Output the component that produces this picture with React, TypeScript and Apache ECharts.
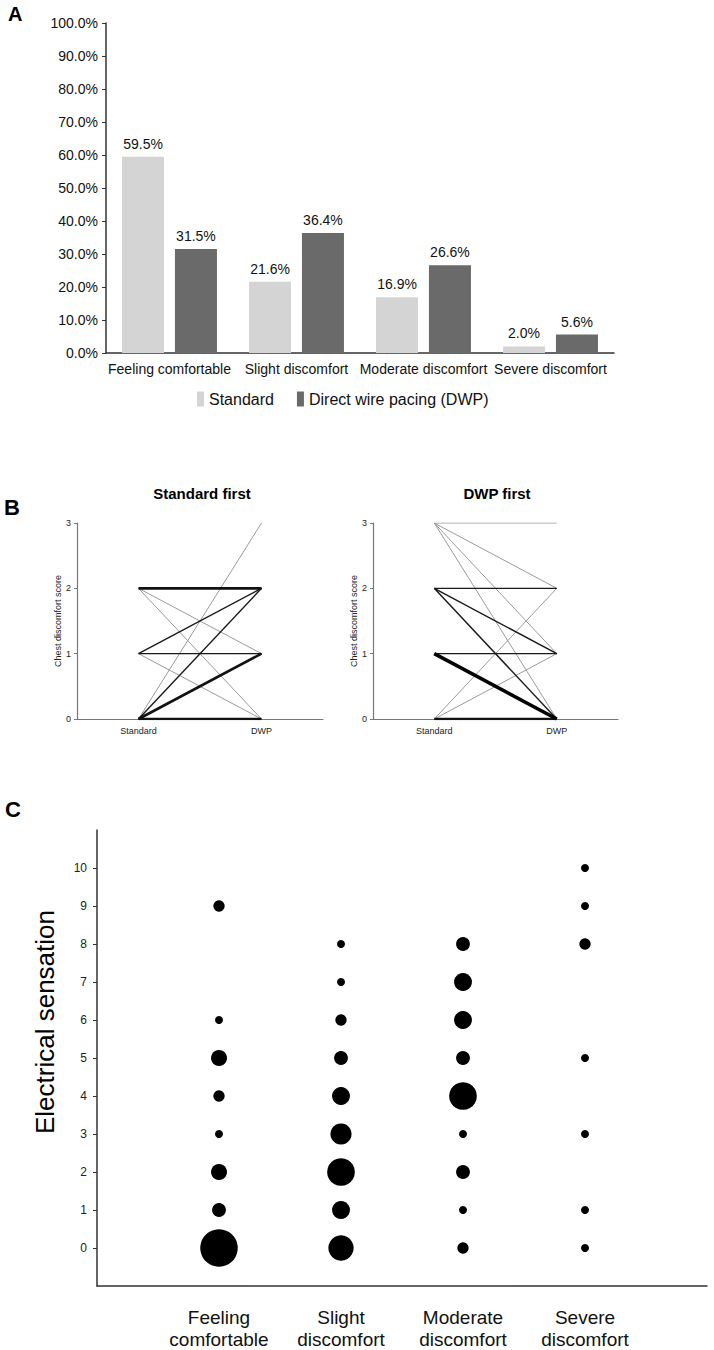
import { useEffect, useRef } from "react";
import * as echarts from "echarts";

// panel A: share of patients per discomfort level
const discomfortLevels = [
  "Feeling comfortable",
  "Slight discomfort",
  "Moderate discomfort",
  "Severe discomfort",
];
const standardPct = [59.5, 21.6, 16.9, 2.0];
const dwpPct = [31.5, 36.4, 26.6, 5.6];

// panel B: chest discomfort score per patient, [with Standard, with DWP, patients]
const pacingArms = ["Standard", "DWP"];
const scoreTicks = [0, 1, 2, 3];
const standardFirstPairs = [
  [2, 2, 3],
  [2, 1, 1],
  [2, 0, 1],
  [1, 2, 2],
  [1, 1, 2],
  [1, 0, 1],
  [0, 3, 1],
  [0, 2, 2],
  [0, 1, 3],
  [0, 0, 3],
];
const dwpFirstPairs = [
  [3, 3, 1],
  [3, 2, 1],
  [3, 1, 1],
  [3, 0, 1],
  [2, 2, 2],
  [2, 1, 2],
  [2, 0, 2],
  [1, 1, 2],
  [1, 0, 4],
  [0, 2, 1],
  [0, 1, 1],
  [0, 0, 3],
];

// panel C: electrical sensation score vs discomfort, [score, patients]
const sensationCategories = [
  "Feeling\ncomfortable",
  "Slight\ndiscomfort",
  "Moderate\ndiscomfort",
  "Severe\ndiscomfort",
];
const sensationTicks = [0, 1, 2, 3, 4, 5, 6, 7, 8, 9, 10];
const feelingCounts = [[0, 22], [1, 3], [2, 4], [3, 1], [4, 2], [5, 4], [6, 1], [9, 2]];
const slightCounts = [[0, 10], [1, 5], [2, 12], [3, 7], [4, 5], [5, 3], [6, 2], [7, 1], [8, 1]];
const moderateCounts = [[0, 2], [1, 1], [2, 3], [3, 1], [4, 12], [5, 3], [6, 5], [7, 5], [8, 3]];
const severeCounts = [[0, 1], [1, 1], [3, 1], [5, 1], [8, 2], [9, 1], [10, 1]];

const FONT = "Liberation Sans, Arial, sans-serif";

const pairStyle = (n: number) => {
  if (n <= 1) return { width: 1, color: "#9a9a9a" };
  if (n === 2) return { width: 1.4, color: "#1a1a1a" };
  if (n === 3) return { width: 2.6, color: "#111" };
  return { width: 3.6, color: "#000" };
};

const pairSeries = (pairs: number[][], axisIndex: number) =>
  [...pairs]
    .sort((a, b) => a[2] - b[2])
    .map((p) => ({
      type: "line",
      xAxisIndex: axisIndex,
      yAxisIndex: axisIndex,
      data: [p[0], p[1]],
      symbol: "none",
      silent: true,
      z: 2 + p[2],
      lineStyle: pairStyle(p[2]),
    }));

const App = () => {
  const chartRef = useRef<HTMLDivElement>(null);

  useEffect(() => {
    if (!chartRef.current) return;
    document.body.style.margin = "0";

    const chart = echarts.init(chartRef.current, null, { renderer: "svg" });

    const bAxisY = (gridIndex: number) => ({
      type: "value",
      gridIndex,
      min: scoreTicks[0],
      max: scoreTicks[scoreTicks.length - 1],
      interval: 1,
      name: "Chest discomfort score",
      nameLocation: "middle",
      nameGap: 13,
      nameTextStyle: { fontSize: 9, color: "#222", fontFamily: FONT },
      axisLine: { show: true, lineStyle: { color: "#777", width: 1.2 } },
      axisTick: { show: true, length: 3, lineStyle: { color: "#777" } },
      axisLabel: { fontSize: 9, color: "#222", margin: 6, fontFamily: FONT },
      splitLine: { show: false },
    });

    const bAxisX = (gridIndex: number) => ({
      type: "category",
      gridIndex,
      data: pacingArms,
      boundaryGap: true,
      axisLine: { show: true, lineStyle: { color: "#777", width: 1.2 } },
      axisTick: { show: false },
      axisLabel: { fontSize: 9, color: "#222", margin: 7, fontFamily: FONT },
    });

    const bubble = (name: string, idx: number, counts: number[][]) => ({
      type: "scatter",
      name,
      xAxisIndex: 3,
      yAxisIndex: 3,
      data: counts.map((c) => [idx + 1, c[0], c[1]]),
      symbolSize: (v: number[]) => 8 * Math.sqrt(v[2]),
      itemStyle: { color: "#000", opacity: 1 },
      silent: true,
    });

    const option = {
      animation: false,
      textStyle: { fontFamily: FONT },
      grid: [
        { left: 106, top: 23, width: 508, height: 330 },
        { left: 77, top: 523, width: 246, height: 196 },
        { left: 373, top: 523, width: 245, height: 196 },
        { left: 97, top: 830, width: 610, height: 456 },
      ],
      legend: {
        data: ["Standard", "Direct wire pacing (DWP)"],
        left: 192,
        top: 386,
        icon: "rect",
        itemWidth: 7,
        itemHeight: 15,
        itemGap: 23,
        textStyle: { fontSize: 16, color: "#111", fontFamily: FONT },
      },
      xAxis: [
        {
          type: "category",
          gridIndex: 0,
          data: discomfortLevels,
          axisLine: { lineStyle: { color: "#333", width: 1.5 } },
          axisTick: { show: false },
          axisLabel: { fontSize: 14, color: "#111", margin: 9, interval: 0 },
        },
        bAxisX(1),
        bAxisX(2),
        {
          type: "value",
          gridIndex: 3,
          min: 0,
          max: 5,
          interval: 1,
          axisLine: { show: true, onZero: false, lineStyle: { color: "#333", width: 1.5 } },
          axisTick: { show: false },
          splitLine: { show: false },
          axisLabel: {
            customValues: [1, 2, 3, 4],
            formatter: (v: number) => sensationCategories[v - 1] ?? "",
            fontSize: 19,
            lineHeight: 22,
            color: "#111",
            margin: 20,
          },
        },
      ],
      yAxis: [
        {
          type: "value",
          gridIndex: 0,
          min: 0,
          max: 100,
          interval: 10,
          axisLine: { show: true, lineStyle: { color: "#333", width: 1.5 } },
          axisTick: { show: true, length: 4, lineStyle: { color: "#333" } },
          axisLabel: {
            fontSize: 14,
            color: "#111",
            margin: 8,
            formatter: (v: number) => `${v.toFixed(1)}%`,
          },
          splitLine: { show: false },
        },
        bAxisY(1),
        bAxisY(2),
        {
          type: "value",
          gridIndex: 3,
          min: -1,
          max: 11,
          interval: 1,
          axisLine: { show: true, onZero: false, lineStyle: { color: "#333", width: 1.5 } },
          axisTick: {
            show: true,
            length: 4,
            customValues: sensationTicks,
            lineStyle: { color: "#333" },
          },
          axisLabel: {
            customValues: sensationTicks,
            fontSize: 12,
            color: "#222",
            margin: 10,
            formatter: (v: number) => (v < 0 || v > 10 ? "" : `${v}`),
          },
          splitLine: { show: false },
        },
      ],
      graphic: [
        { type: "text", x: 8, y: 4, style: { text: "A", fontSize: 20, fontWeight: "bold", fill: "#000", fontFamily: FONT } },
        { type: "text", x: 4, y: 496, style: { text: "B", fontSize: 22, fontWeight: "bold", fill: "#000", fontFamily: FONT } },
        { type: "text", x: 5, y: 798, style: { text: "C", fontSize: 22, fontWeight: "bold", fill: "#000", fontFamily: FONT } },
        {
          type: "text",
          x: 202,
          y: 493,
          style: { text: "Standard first", fontSize: 15, fontWeight: "bold", fill: "#000", textAlign: "center", textVerticalAlign: "middle", fontFamily: FONT },
        },
        {
          type: "text",
          x: 497,
          y: 493,
          style: { text: "DWP first", fontSize: 15, fontWeight: "bold", fill: "#000", textAlign: "center", textVerticalAlign: "middle", fontFamily: FONT },
        },
        {
          type: "text",
          x: 45,
          y: 1022,
          rotation: Math.PI / 2,
          style: { text: "Electrical sensation", fontSize: 26, fill: "#000", textAlign: "center", textVerticalAlign: "middle", fontFamily: FONT },
        },
      ],
      series: [
        {
          type: "bar",
          name: "Standard",
          xAxisIndex: 0,
          yAxisIndex: 0,
          data: standardPct,
          barWidth: 42,
          barGap: "26%",
          itemStyle: { color: "#d4d4d4" },
          label: {
            show: true,
            position: "top",
            distance: 6,
            fontSize: 14,
            color: "#111",
            formatter: (p: { value: number }) => `${p.value.toFixed(1)}%`,
          },
        },
        {
          type: "bar",
          name: "Direct wire pacing (DWP)",
          xAxisIndex: 0,
          yAxisIndex: 0,
          data: dwpPct,
          barWidth: 42,
          itemStyle: { color: "#6a6a6a" },
          label: {
            show: true,
            position: "top",
            distance: 6,
            fontSize: 14,
            color: "#111",
            formatter: (p: { value: number }) => `${p.value.toFixed(1)}%`,
          },
        },
        ...pairSeries(standardFirstPairs, 1),
        ...pairSeries(dwpFirstPairs, 2),
        bubble(sensationCategories[0], 0, feelingCounts),
        bubble(sensationCategories[1], 1, slightCounts),
        bubble(sensationCategories[2], 2, moderateCounts),
        bubble(sensationCategories[3], 3, severeCounts),
      ],
    };

    chart.setOption(option as echarts.EChartsOption);

    return () => {
      chart.dispose();
    };
  }, []);

  return <div ref={chartRef} style={{ width: 714, height: 1350 }} />;
};

export default App;
